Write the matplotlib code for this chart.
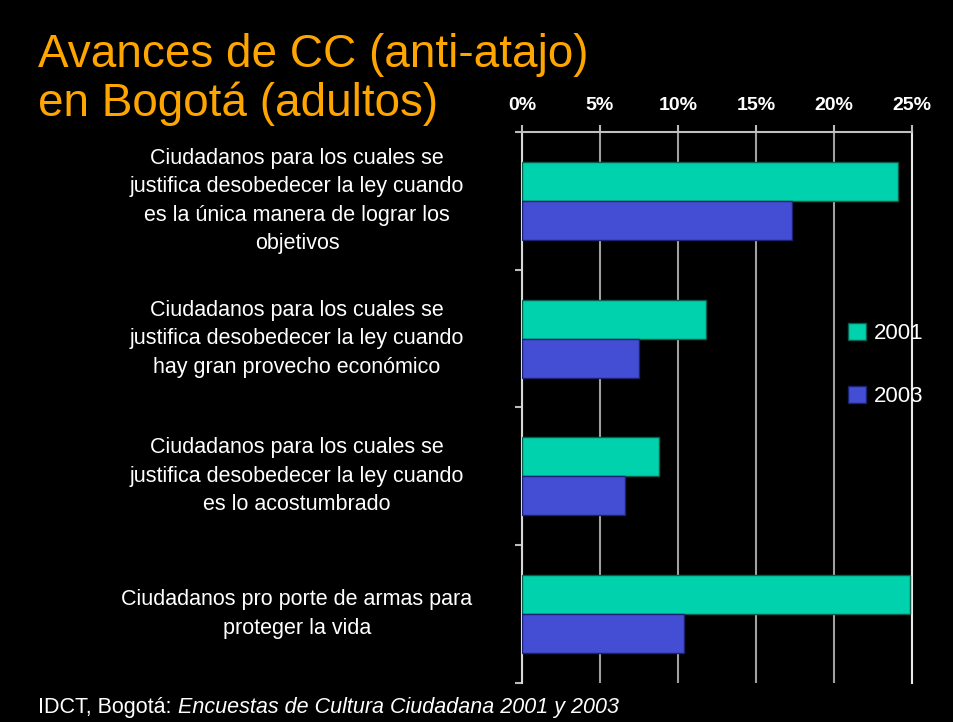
import matplotlib
matplotlib.use("Agg")
import matplotlib.pyplot as plt
import matplotlib.transforms as mtransforms
import numpy as np

# Data (percent of adults)
categories = [
    "Ciudadanos para los cuales se\njustifica desobedecer la ley cuando\nes la única manera de lograr los\nobjetivos",
    "Ciudadanos para los cuales se\njustifica desobedecer la ley cuando\nhay gran provecho económico",
    "Ciudadanos para los cuales se\njustifica desobedecer la ley cuando\nes lo acostumbrado",
    "Ciudadanos pro porte de armas para\nproteger la vida",
]
values_2001 = [24.1, 11.8, 8.8, 24.9]
values_2003 = [17.3, 7.5, 6.6, 10.4]
series_labels = ["2001", "2003"]
x_ticks = [0, 5, 10, 15, 20, 25]

TEAL = "#00D2AD"
BLUE = "#444ED4"
ORANGE = "#FFA500"
FONT = ["Liberation Sans", "DejaVu Sans"]

plt.rcParams["font.family"] = FONT

fig = plt.figure(figsize=(9.54, 7.22), dpi=100, facecolor="black")
ax = fig.add_axes([522 / 954, 1 - 683 / 722, 390 / 954, 551 / 722])
ax.set_facecolor("black")

idx = np.arange(len(categories))
h = 0.283
b1 = ax.barh(idx - h / 2, values_2001, height=h, color=TEAL, edgecolor="#0b5e4c",
             linewidth=1, label=series_labels[0], zorder=3)
b2 = ax.barh(idx + h / 2, values_2003, height=h, color=BLUE, edgecolor="#1c2270",
             linewidth=1, label=series_labels[1], zorder=3)

ax.set_xlim(0, 25)
ax.set_ylim(len(categories) - 0.5, -0.5)

ax.xaxis.tick_top()
ax.set_xticks(x_ticks)
ax.set_xticklabels([f"{v}%" for v in x_ticks], color="white", fontsize=14, fontweight="bold")
ax.tick_params(axis="x", which="major", length=5, width=1.5, color="#bbbbbb", pad=8)
ax.grid(axis="x", color="#a0a0a0", linewidth=1.5, zorder=0)
ax.set_axisbelow(True)

ax.set_yticks([])
ax.set_yticks(np.arange(-0.5, len(categories)), minor=True)
ax.tick_params(axis="y", which="minor", length=5, width=1.5, color="#bbbbbb")

for side, col in [("left", "#d8d8d8"), ("top", "#c0c0c0"), ("right", "#e8e8e8")]:
    ax.spines[side].set_color(col)
    ax.spines[side].set_linewidth(1.5)
ax.spines["bottom"].set_visible(False)

# category labels, centred in the left margin
trans = mtransforms.blended_transform_factory(fig.transFigure, ax.transData)
for i, lab in enumerate(categories):
    ax.text(297 / 954, i, lab, transform=trans, ha="center", va="center",
            multialignment="center", color="white", fontsize=15.5, linespacing=1.47)

leg = fig.legend(handles=[b1, b2], loc="center left", bbox_to_anchor=(848 / 954, 1 - 365 / 722),
                 bbox_transform=fig.transFigure, frameon=False, fontsize=16, labelcolor="white",
                 handlelength=0.8, handleheight=0.8, handletextpad=0.35, labelspacing=1.9,
                 borderpad=0, borderaxespad=0)

# slide title
fig.text(38 / 954, 1 - 55 / 722, "Avances de CC (anti-atajo)", color=ORANGE, fontsize=33,
         ha="left", va="center")
fig.text(38 / 954, 1 - 104 / 722, "en Bogotá (adultos)", color=ORANGE, fontsize=33,
         ha="left", va="center")

# source line, regular + italic
src1 = fig.text(38 / 954, 1 - 708 / 722, "IDCT, Bogotá: ", color="white", fontsize=15.5,
                ha="left", va="center")
renderer = fig.canvas.get_renderer()
bb = src1.get_window_extent(renderer=renderer)
fig.text(bb.x1 / fig.bbox.width, 1 - 708 / 722, "Encuestas de Cultura Ciudadana 2001 y 2003",
         color="white", fontsize=15.5, style="italic", ha="left", va="center")

fig.savefig("out.png", dpi=100, facecolor="black")
